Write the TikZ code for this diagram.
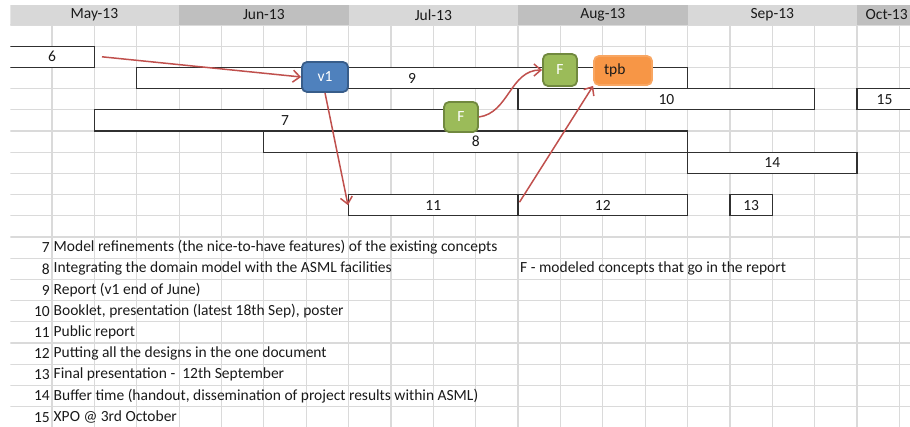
\documentclass[tikz,border=0pt]{standalone}
\usepackage{fontspec}
\setmainfont{Carlito}
\usetikzlibrary{arrows.meta}
\definecolor{gridgray}{HTML}{DADADA}
\definecolor{headlight}{HTML}{D8D8D8}
\definecolor{headdark}{HTML}{BFBFBF}
\definecolor{barline}{HTML}{303030}
\definecolor{arrowred}{HTML}{C0504D}
\definecolor{vfill}{HTML}{4F81BD}
\definecolor{vline}{HTML}{385D8A}
\definecolor{ffill}{HTML}{9BBB59}
\definecolor{fline}{HTML}{71893F}
\definecolor{tfill}{HTML}{F79646}
\definecolor{inktext}{HTML}{1A1A1A}
\def\ColX{9.63}
\def\ColW{42.37}
\def\RowY{25}
\def\RowH{21.2}

\begin{document}
\begin{tikzpicture}[x=1pt,y=-1pt,
  every node/.style={font=\fontsize{15.5}{18}\selectfont, text=inktext},
  bar/.style={draw=barline, line width=1.2pt, fill=white, minimum height=21.2pt, inner sep=0pt},
  milestone/.style={rounded corners=5pt, line width=1.8pt, inner sep=0pt, text=white},
  link/.style={draw=arrowred, line width=1.5pt, -{Straight Barb[length=7pt,width=12pt]}}]
  \useasboundingbox (0,0) rectangle (910,427);
  \clip (10.3,0) rectangle (910,427);
  % grid
  \foreach \k in {0,...,19}
    \draw[gridgray, line width=1.2pt] (0,{\RowY+\k*\RowH}) -- (910,{\RowY+\k*\RowH});
  \foreach \k in {1,...,21}
    \draw[gridgray, line width=1.2pt] ({\ColX+\k*\ColW},\RowY) -- ({\ColX+\k*\ColW},427);
  % months
  \foreach \m/\lo/\hi/\tone in {May/0/4/headlight, Jun/4/8/headdark, Jul/8/12/headlight,
                                Aug/12/16/headdark, Sep/16/20/headlight, Oct/20/21.4/headdark}
    {
      \fill[\tone] ({\ColX+\lo*\ColW},5) rectangle ({\ColX+\hi*\ColW},\RowY);
      \node (m\m) at ({\ColX+(\lo+\hi)/2*\ColW},15) {\m-13};
    }
  % bars
  \foreach \lbl/\lo/\hi/\row in {6/0/2/1, 9/3/16/2, 10/12/19/3, 15/20/21.3/3, 7/2/11/4,
                                 8/6/16/5, 14/16/20/6, 11/8/12/8, 12/12/16/8, 13/17/18/8}
    \node[bar, minimum width={(\hi-\lo)*\ColW*1pt}] (b\lbl)
      at ({\ColX+(\lo+\hi)/2*\ColW},{\RowY+(\row+0.5)*\RowH}) {\lbl};
  % milestones
  \node[milestone, fill=vfill, draw=vline, minimum width=46pt, minimum height=30pt] (v1) at (325,77) {v1};
  \node[milestone, fill=ffill, draw=fline, minimum width=34pt, minimum height=32pt] (F1) at (560,70) {F};
  \node[milestone, fill=ffill, draw=fline, minimum width=34pt, minimum height=30pt] (F2) at (461,117) {F};
  \node[milestone, fill=tfill, draw=tfill!85!white, minimum width=58pt, minimum height=29pt,
        text=inktext, text width=38pt, align=left] (tpb) at (623,70.5) {tpb};
  % links
  \draw[link] ([xshift=7pt]b6.east) -- (v1.west);
  \draw[link] (v1.south) -- (b11.west);
  \draw[link] (F2.east) .. controls +(30,-4) and +(-32,0) .. (F1.west);
  \draw[link] ([shift={(2,-3)}]b12.west) -- (tpb.south west);
  % legend
  \foreach \num/\txt in {7/{Model refinements (the nice-to-have features) of the existing concepts},
                         8/{Integrating the domain model with the ASML facilities},
                         9/{Report (v1 end of June)},
                         10/{Booklet, presentation (latest 18th Sep), poster},
                         11/{Public report},
                         12/{Putting all the designs in the one document},
                         13/{Final presentation -~ 12th September},
                         14/{Buffer time (handout, dissemination of project results within ASML)},
                         15/{XPO @ 3rd October}}
    {
      \node[anchor=east, inner xsep=1pt] (n\num) at (51,{\RowY+(\num+3.5)*\RowH}) {\num};
      \node[anchor=west, inner xsep=1.5pt] (t\num) at (52,{\RowY+(\num+3.5)*\RowH}) {\txt};
    }
  \node[anchor=west, inner xsep=1.5pt] (key) at (518.5,{\RowY+11.5*\RowH}) {F - modeled concepts that go in the report};
\end{tikzpicture}
\end{document}
